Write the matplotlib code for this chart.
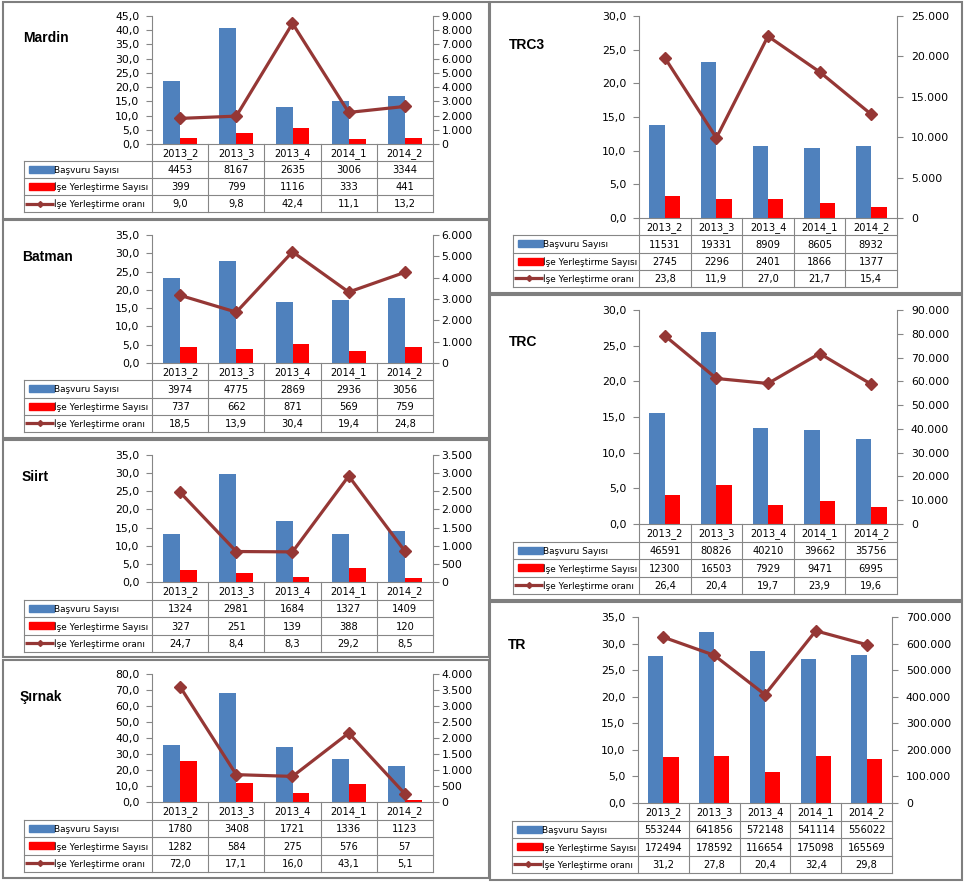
import numpy as np
import matplotlib
matplotlib.use("Agg")
import matplotlib.pyplot as plt
from matplotlib.patches import Rectangle
from matplotlib.ticker import FuncFormatter

W, H = 965, 882

donemler = ["2013_2", "2013_3", "2013_4", "2014_1", "2014_2"]

mardin_basvuru = [4453, 8167, 2635, 3006, 3344]
mardin_yerlestirme = [399, 799, 1116, 333, 441]
mardin_oran = [9.0, 9.8, 42.4, 11.1, 13.2]

batman_basvuru = [3974, 4775, 2869, 2936, 3056]
batman_yerlestirme = [737, 662, 871, 569, 759]
batman_oran = [18.5, 13.9, 30.4, 19.4, 24.8]

siirt_basvuru = [1324, 2981, 1684, 1327, 1409]
siirt_yerlestirme = [327, 251, 139, 388, 120]
siirt_oran = [24.7, 8.4, 8.3, 29.2, 8.5]

sirnak_basvuru = [1780, 3408, 1721, 1336, 1123]
sirnak_yerlestirme = [1282, 584, 275, 576, 57]
sirnak_oran = [72.0, 17.1, 16.0, 43.1, 5.1]

trc3_basvuru = [11531, 19331, 8909, 8605, 8932]
trc3_yerlestirme = [2745, 2296, 2401, 1866, 1377]
trc3_oran = [23.8, 11.9, 27.0, 21.7, 15.4]

trc_basvuru = [46591, 80826, 40210, 39662, 35756]
trc_yerlestirme = [12300, 16503, 7929, 9471, 6995]
trc_oran = [26.4, 20.4, 19.7, 23.9, 19.6]

tr_basvuru = [553244, 641856, 572148, 541114, 556022]
tr_yerlestirme = [172494, 178592, 116654, 175098, 165569]
tr_oran = [31.2, 27.8, 20.4, 32.4, 29.8]

seri_adlari = ["Başvuru Sayısı", "İşe Yerleştirme Sayısı", "İşe Yerleştirme oranı"]

BLUE = "#4f81bd"
RED = "#ff0000"
LINE = "#953735"
GRAY = "#868686"

plt.rcParams["font.family"] = "DejaVu Sans"


def fig_box(x0, y0, x1, y1):
    # pixel box (top-left origin) -> figure fraction
    return [x0 / W, 1 - y1 / H, (x1 - x0) / W, (y1 - y0) / H]


def sayi_fmt(v, pos=None):
    return "0" if v == 0 else f"{int(round(v)):,}".replace(",", ".")


def oran_fmt(v, pos=None):
    return f"{v:.1f}".replace(".", ",")


def draw_panel(fig, title, basvuru, yerlestirme, oran, panel, plot,
               table_left, table_bottom, title_xy, left_max, left_step,
               right_max, right_step, right_pad):
    bx0, by0, bx1, by1 = panel
    fig.add_artist(Rectangle((bx0 / W, 1 - by1 / H), (bx1 - bx0) / W,
                             (by1 - by0) / H, transform=fig.transFigure,
                             fill=False, edgecolor="#7f7f7f", linewidth=1.5))
    fig.text(title_xy[0] / W, 1 - title_xy[1] / H, title, ha="left",
             va="center", fontsize=10, fontweight="bold",
             family="Liberation Sans")

    pl, pt, pr, pb = plot
    x = np.arange(len(donemler))

    ax = fig.add_axes(fig_box(pl, pt, pr, pb))
    ax2 = ax.twinx()

    # bars against the count axis (right side)
    ax.bar(x - 0.15, basvuru, width=0.3, color=BLUE)
    ax.bar(x + 0.15, yerlestirme, width=0.3, color=RED)
    ax.set_xlim(-0.5, 4.5)
    ax.set_ylim(0, right_max)
    ax.set_xticks([])
    ax.yaxis.tick_right()
    ax.set_yticks(np.arange(0, right_max + 1, right_step))
    ax.yaxis.set_major_formatter(FuncFormatter(sayi_fmt))
    ax.tick_params(axis="y", left=False, labelleft=False, right=True,
                   labelright=True, direction="out", length=4, width=0.8,
                   color=GRAY, labelsize=7.8, pad=right_pad)
    ax.spines["top"].set_visible(False)
    for s in ("left", "right", "bottom"):
        ax.spines[s].set_color(GRAY)
        ax.spines[s].set_linewidth(0.8)

    # rate line against the percent axis (left side)
    ax2.plot(x, oran, color=LINE, lw=2.3, marker="D", ms=6)
    ax2.set_ylim(0, left_max)
    ax2.yaxis.tick_left()
    ax2.set_yticks(np.arange(0, left_max + 0.01, left_step))
    ax2.yaxis.set_major_formatter(FuncFormatter(oran_fmt))
    ax2.tick_params(axis="y", left=True, labelleft=True, right=False,
                    labelright=False, direction="out", length=4, width=0.8,
                    color=GRAY, labelsize=7.8, pad=5)
    for s in ax2.spines.values():
        s.set_visible(False)

    # data table below
    w = (pr - pl) / 5
    u = 1 / w
    tab = fig.add_axes(fig_box(table_left, pb, pr, table_bottom))
    xmin = -0.5 - (pl - table_left) / w
    tab.set_xlim(xmin, 4.5)
    tab.set_ylim(4, 0)
    tab.axis("off")
    kw = dict(color=GRAY, lw=0.8, clip_on=False)
    for k in range(6):
        tab.plot([k - 0.5, k - 0.5], [0, 4], **kw)
    tab.plot([xmin, xmin], [1, 4], **kw)
    for r in (1, 2, 3, 4):
        tab.plot([xmin, 4.5], [r, r], **kw)

    for i, d in enumerate(donemler):
        tab.text(i, 0.55, d, ha="center", va="center", fontsize=7.1)
        tab.text(i, 1.55, str(basvuru[i]), ha="center", va="center", fontsize=7.1)
        tab.text(i, 2.55, str(yerlestirme[i]), ha="center", va="center", fontsize=7.1)
        tab.text(i, 3.55, oran_fmt(oran[i]), ha="center", va="center", fontsize=7.1)

    tab.add_patch(Rectangle((xmin + 5 * u, 1.3), 25 * u, 0.4, color=BLUE))
    tab.add_patch(Rectangle((xmin + 5 * u, 2.3), 25 * u, 0.4, color=RED))
    tab.plot([xmin + 1 * u, xmin + 30 * u], [3.5, 3.5], color=LINE, lw=2.3,
             solid_capstyle="butt")
    tab.plot([xmin + 16 * u], [3.5], marker="D", ms=3, color=LINE)
    for r, ad in enumerate(seri_adlari):
        tab.text(xmin + 30 * u, r + 1.55, ad, ha="left", va="center",
                 fontsize=6.4)


fig = plt.figure(figsize=(W / 100, H / 100), dpi=100)

draw_panel(fig, "Mardin", mardin_basvuru, mardin_yerlestirme, mardin_oran,
           (3, 2, 489, 219), (152, 16, 433, 144), 24, 212, (23, 38),
           45, 5, 9000, 1000, 2)
draw_panel(fig, "Batman", batman_basvuru, batman_yerlestirme, batman_oran,
           (3, 220, 489, 438), (152, 235, 433, 363), 24, 432, (22, 257),
           35, 5, 6000, 1000, 2)
draw_panel(fig, "Siirt", siirt_basvuru, siirt_yerlestirme, siirt_oran,
           (3, 440, 489, 657), (152, 455, 433, 582), 24, 652, (22, 477),
           35, 5, 3500, 500, 2)
draw_panel(fig, "Şırnak", sirnak_basvuru, sirnak_yerlestirme, sirnak_oran,
           (3, 660, 489, 878), (152, 674, 433, 802), 24, 872, (20, 697),
           80, 10, 4000, 500, 2)
draw_panel(fig, "TRC3", trc3_basvuru, trc3_yerlestirme, trc3_oran,
           (490, 2, 962, 293), (639, 16, 897, 218), 513, 287, (509, 45),
           30, 5, 25000, 5000, 6)
draw_panel(fig, "TRC", trc_basvuru, trc_yerlestirme, trc_oran,
           (490, 295, 962, 600), (639, 310, 897, 524), 513, 594, (509, 342),
           30, 5, 90000, 10000, 6)
draw_panel(fig, "TR", tr_basvuru, tr_yerlestirme, tr_oran,
           (490, 602, 962, 880), (638, 617, 892, 803), 512, 873, (508, 645),
           35, 5, 700000, 100000, 6)

fig.savefig("out.png", dpi=100)
